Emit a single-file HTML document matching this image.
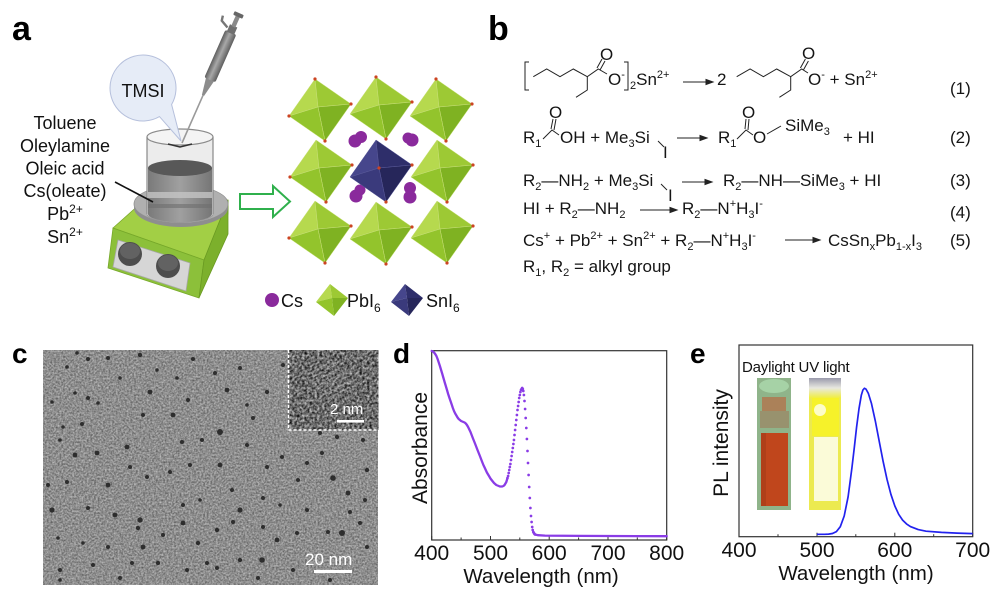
<!DOCTYPE html>
<html><head><meta charset="utf-8">
<style>
html,body{margin:0;padding:0;background:#fff;}
#w{position:relative;width:994px;height:597px;overflow:hidden;font-family:"Liberation Sans",Arial,sans-serif;background:#fff;}
svg{position:absolute;left:0;top:0;}
.t{position:absolute;font-size:17px;line-height:17px;white-space:nowrap;color:#151515;}
.s{font-size:11px;position:relative;top:4px;}
.p{font-size:11px;position:relative;top:-7px;}
</style></head><body><div id="w">
<svg width="994" height="597" viewBox="0 0 994 597" xmlns="http://www.w3.org/2000/svg" font-family="Liberation Sans, Arial, sans-serif">
<defs>
<filter id="tn" x="0" y="0" width="100%" height="100%" color-interpolation-filters="sRGB">
<feTurbulence type="fractalNoise" baseFrequency="0.55" numOctaves="2" seed="5"/>
<feColorMatrix type="matrix" values="0.55 0 0 0 0.28  0.55 0 0 0 0.28  0.55 0 0 0 0.28  0 0 0 0 1"/>
</filter>
<filter id="tn2" x="0" y="0" width="100%" height="100%" color-interpolation-filters="sRGB">
<feTurbulence type="fractalNoise" baseFrequency="0.4" numOctaves="2" seed="9"/>
<feColorMatrix type="matrix" values="1.1 0 0 0 -0.13  1.1 0 0 0 -0.13  1.1 0 0 0 -0.13  0 0 0 0 1"/>
</filter>
<linearGradient id="pip" x1="0" y1="0" x2="1" y2="0">
<stop offset="0" stop-color="#5e5e5e"/><stop offset="0.45" stop-color="#a8a8a8"/><stop offset="1" stop-color="#5e5e5e"/>
</linearGradient>
<linearGradient id="liq" x1="0" y1="0" x2="1" y2="0">
<stop offset="0" stop-color="#7a7a7a"/><stop offset="0.5" stop-color="#a0a0a0"/><stop offset="1" stop-color="#767676"/>
</linearGradient>
<linearGradient id="uvt" x1="0" y1="0" x2="0" y2="1">
<stop offset="0" stop-color="#9a9aac"/><stop offset="0.5" stop-color="#e8e8e0"/><stop offset="1" stop-color="#f0ee40"/>
</linearGradient>
<marker id="dm" markerWidth="4" markerHeight="4" refX="2" refY="2" markerUnits="userSpaceOnUse"><circle cx="2" cy="2" r="1.35" fill="#8a3ce6"/></marker>
</defs>

<!-- ===== Panel labels ===== -->
<text x="12" y="40" font-size="34" font-weight="bold" fill="#000">a</text>
<text x="488" y="40" font-size="34" font-weight="bold" fill="#000">b</text>
<text x="12" y="363" font-size="28" font-weight="bold" fill="#000">c</text>
<text x="393" y="363" font-size="28" font-weight="bold" fill="#000">d</text>
<text x="690" y="363" font-size="28" font-weight="bold" fill="#000">e</text>

<!-- ===== Panel a: hotplate ===== -->
<polygon points="113,228 150,195 228,200 228,214 204,260" fill="#a2cf45" stroke="#7aa82a" stroke-width="0.8"/>
<polygon points="113,228 204,260 199,298 108,268" fill="#8cc03a" stroke="#76a82a" stroke-width="0.8"/>
<polygon points="204,260 228,200 228,234 199,298" fill="#7cb02c" stroke="#6a9a22" stroke-width="0.8"/>
<polygon points="118,240 190,263 186,291 113,267" fill="#d6d6d6" stroke="#a8a8a8" stroke-width="0.8"/>
<circle cx="130" cy="254" r="12" fill="#4d4d4d"/>
<ellipse cx="130" cy="251" rx="10" ry="8" fill="#626262"/>
<circle cx="168" cy="266" r="12" fill="#4d4d4d"/>
<ellipse cx="168" cy="263" rx="10" ry="8" fill="#626262"/>
<!-- disk -->
<ellipse cx="181" cy="208" rx="47" ry="19" fill="#8e8e8e"/>
<ellipse cx="181" cy="204" rx="47" ry="19" fill="#b0b0b0" stroke="#909090" stroke-width="0.8"/>
<!-- beaker -->
<path d="M147,137 L147,214 A33,8 0 0,0 213,214 L213,137 Z" fill="#ececec" stroke="#9a9a9a" stroke-width="1"/>
<path d="M148,168 L148,214 A32,8 0 0,0 212,214 L212,168 Z" fill="url(#liq)"/>
<rect x="148" y="192" width="64" height="6" fill="#c4c4c4" opacity="0.8"/>
<rect x="148" y="204" width="64" height="4" fill="#6e6e6e" opacity="0.6"/>
<ellipse cx="180" cy="168" rx="32" ry="8" fill="#585858"/>
<ellipse cx="180" cy="137" rx="33" ry="8" fill="#f4f4f4" stroke="#8a8a8a" stroke-width="1.2"/>
<path d="M168,144 L180,147 L192,144" fill="none" stroke="#333" stroke-width="1.5"/>
<line x1="147" y1="137" x2="147" y2="214" stroke="#888" stroke-width="1.2"/>
<line x1="213" y1="137" x2="213" y2="214" stroke="#888" stroke-width="1.2"/>
<!-- bubble -->
<path d="M171.6,104.5 L181,141 L159.5,116.6 A33,33 0 1,1 171.6,104.5 Z" fill="#e6ecf7" stroke="#b6c0dc" stroke-width="1"/>
<text x="143" y="97" font-size="18" text-anchor="middle" fill="#111">TMSI</text>
<!-- pipette -->
<g transform="translate(182,143) rotate(23.8)">
<rect x="-0.8" y="-52" width="1.6" height="52" fill="#9a9a9a"/>
<polygon points="-1.2,-52 1.2,-52 4.5,-70 -4.5,-70" fill="#8c8c8c"/>
<rect x="-6" y="-121" width="12" height="52" rx="2" fill="url(#pip)"/>
<rect x="-4" y="-128" width="8" height="8" fill="#707070"/>
<rect x="-2.2" y="-139" width="4.4" height="12" fill="#8a8a8a"/>
<rect x="-5" y="-142" width="10" height="4" rx="1" fill="#666"/>
<path d="M-5,-124 L-13,-128 L-14,-133" fill="none" stroke="#777" stroke-width="2.4"/>
</g>
<!-- text list -->
<g font-size="18" text-anchor="middle" fill="#111">
<text x="65" y="129">Toluene</text>
<text x="65" y="152">Oleylamine</text>
<text x="65" y="174.5">Oleic acid</text>
<text x="65" y="197">Cs(oleate)</text>
<text x="65" y="220">Pb<tspan dy="-7" font-size="12">2+</tspan></text>
<text x="65" y="243">Sn<tspan dy="-7" font-size="12">2+</tspan></text>
</g>
<line x1="115" y1="182" x2="153" y2="202" stroke="#111" stroke-width="1.6"/>
<!-- green arrow -->
<polygon points="240,194 273,194 273,186 290,201.5 273,217 273,209 240,209" fill="#fff" stroke="#2fb04c" stroke-width="2"/>

<!-- crystal -->
<g stroke="#c9e07a" stroke-width="0.5">
<polygon points="289,116 315,79 318,107" fill="#b6d94e"/><polygon points="315,79 351,104 318,107" fill="#9dc934"/><polygon points="351,104 325,141 318,107" fill="#7fb222"/><polygon points="325,141 289,116 318,107" fill="#93c42c"/>
<polygon points="350,114 376,77 379,105" fill="#b6d94e"/><polygon points="376,77 412,102 379,105" fill="#9dc934"/><polygon points="412,102 386,139 379,105" fill="#7fb222"/><polygon points="386,139 350,114 379,105" fill="#93c42c"/>
<polygon points="410,116 436,79 439,107" fill="#b6d94e"/><polygon points="436,79 472,104 439,107" fill="#9dc934"/><polygon points="472,104 446,141 439,107" fill="#7fb222"/><polygon points="446,141 410,116 439,107" fill="#93c42c"/>
<polygon points="290,177 316,140 319,168" fill="#b6d94e"/><polygon points="316,140 352,165 319,168" fill="#9dc934"/><polygon points="352,165 326,202 319,168" fill="#7fb222"/><polygon points="326,202 290,177 319,168" fill="#93c42c"/>
<polygon points="411,177 437,140 440,168" fill="#b6d94e"/><polygon points="437,140 473,165 440,168" fill="#9dc934"/><polygon points="473,165 447,202 440,168" fill="#7fb222"/><polygon points="447,202 411,177 440,168" fill="#93c42c"/>
<polygon points="289,238 315,201 318,229" fill="#b6d94e"/><polygon points="315,201 351,226 318,229" fill="#9dc934"/><polygon points="351,226 325,263 318,229" fill="#7fb222"/><polygon points="325,263 289,238 318,229" fill="#93c42c"/>
<polygon points="350,239 376,202 379,230" fill="#b6d94e"/><polygon points="376,202 412,227 379,230" fill="#9dc934"/><polygon points="412,227 386,264 379,230" fill="#7fb222"/><polygon points="386,264 350,239 379,230" fill="#93c42c"/>
<polygon points="411,238 437,201 440,229" fill="#b6d94e"/><polygon points="437,201 473,226 440,229" fill="#9dc934"/><polygon points="473,226 447,263 440,229" fill="#7fb222"/><polygon points="447,263 411,238 440,229" fill="#93c42c"/>
</g>
<!-- Cs -->
<g fill="#8a2a9c">
<circle cx="355" cy="141" r="6.5"/><circle cx="361" cy="137" r="6"/>
<circle cx="412" cy="140" r="6.5"/><circle cx="408" cy="138" r="5.5"/>
<circle cx="356" cy="196" r="6.5"/><circle cx="360" cy="190" r="5.5"/>
<circle cx="410" cy="197" r="6.5"/><circle cx="410" cy="188" r="6"/>
</g>
<!-- navy -->
<g stroke="#5a5a9a" stroke-width="0.5">
<polygon points="350,177 376,140 379,168" fill="#46468c"/><polygon points="376,140 412,165 379,168" fill="#2e2e6a"/><polygon points="412,165 386,202 379,168" fill="#26265a"/><polygon points="386,202 350,177 379,168" fill="#3a3a7c"/>
</g>
<g fill="#cc4422">
<circle cx="315" cy="79" r="1.6"/><circle cx="376" cy="77" r="1.6"/><circle cx="436" cy="79" r="1.6"/>
<circle cx="289" cy="116" r="1.6"/><circle cx="351" cy="104" r="1.6"/><circle cx="412" cy="102" r="1.6"/><circle cx="472" cy="104" r="1.6"/>
<circle cx="325" cy="141" r="1.6"/><circle cx="386" cy="139" r="1.6"/><circle cx="446" cy="141" r="1.6"/>
<circle cx="290" cy="177" r="1.6"/><circle cx="352" cy="165" r="1.6"/><circle cx="379" cy="168" r="1.6"/><circle cx="412" cy="165" r="1.6"/><circle cx="473" cy="165" r="1.6"/>
<circle cx="326" cy="202" r="1.6"/><circle cx="386" cy="202" r="1.6"/><circle cx="447" cy="202" r="1.6"/>
<circle cx="289" cy="238" r="1.6"/><circle cx="351" cy="226" r="1.6"/><circle cx="412" cy="227" r="1.6"/><circle cx="473" cy="226" r="1.6"/>
<circle cx="325" cy="263" r="1.6"/><circle cx="386" cy="264" r="1.6"/><circle cx="447" cy="263" r="1.6"/>
</g>
<!-- legend -->
<circle cx="272" cy="300" r="7" fill="#8a2a9c"/>
<text x="281" y="307" font-size="18" fill="#111">Cs</text>
<polygon points="316,302 330,284 332,298" fill="#b6d94e"/><polygon points="330,284 348,298 332,298" fill="#9dc934"/><polygon points="348,298 334,316 332,298" fill="#7fb222"/><polygon points="334,316 316,302 332,298" fill="#93c42c"/>
<text x="347" y="307" font-size="18" fill="#111">PbI<tspan dy="5" font-size="12">6</tspan></text>
<polygon points="391,302 405,284 407,298" fill="#46468c"/><polygon points="405,284 423,298 407,298" fill="#2e2e6a"/><polygon points="423,298 409,316 407,298" fill="#26265a"/><polygon points="409,316 391,302 407,298" fill="#3a3a7c"/>
<text x="426" y="307" font-size="18" fill="#111">SnI<tspan dy="5" font-size="12">6</tspan></text>

<!-- ===== Panel b drawings ===== -->
<g fill="none" stroke="#222" stroke-width="1">
<path d="M529,62 L525,62 L525,90 L529,90"/>
<path d="M624,62 L628,62 L628,90 L624,90"/>
<path d="M533.3,76.7 L546.7,69 L560,76.7 L573.3,69 L587.3,76.7 L598.3,69 L607,74"/>
<path d="M587.3,76.7 L587.3,90 L576,97.3"/>
<path d="M597,68 L602,59 M600,70 L605,61"/>
<path d="M736.7,76.7 L750.1,69 L763.4,76.7 L776.7,69 L790.7,76.7 L801.7,69 L808,73"/>
<path d="M790.7,76.7 L790.7,90 L779.4,97.3"/>
<path d="M800.4,68 L805.4,59 M803.4,70 L808.4,61"/>
<path d="M543,139 L552,130 L559,135"/>
<path d="M551,129 L553,119 M554,130 L556,119"/>
<path d="M737,139 L746,130 L753,135"/>
<path d="M745,129 L746,119 M748,130 L749,119"/>
<path d="M767,134 L781,126"/>
<path d="M658,141 L664,147"/>
<path d="M661,184 L667,190"/>
</g>
<g stroke="#222" stroke-width="1" fill="#222">
<line x1="683" y1="82" x2="708" y2="82"/><polygon points="713,82 706,79.5 706,84.5"/>
<line x1="677" y1="138" x2="702" y2="138"/><polygon points="707,138 700,135.5 700,140.5"/>
<line x1="682" y1="182" x2="707" y2="182"/><polygon points="712,182 705,179.5 705,184.5"/>
<line x1="640" y1="210" x2="672" y2="210"/><polygon points="677,210 670,207.5 670,212.5"/>
<line x1="785" y1="240" x2="815" y2="240"/><polygon points="820,240 813,237.5 813,242.5"/>
</g>

<!-- ===== Panel c: TEM ===== -->
<rect x="43" y="350" width="335" height="235" fill="#8c8c8c" filter="url(#tn)"/>
<g fill="#262626" opacity="0.92">
<circle cx="88" cy="359" r="2"/><circle cx="77" cy="353" r="1.8"/><circle cx="67" cy="367" r="1.8"/><circle cx="108" cy="358" r="2"/><circle cx="140" cy="355" r="2.2"/><circle cx="157" cy="370" r="1.8"/><circle cx="193" cy="359" r="2"/><circle cx="215" cy="373" r="2"/><circle cx="227" cy="390" r="2.4"/><circle cx="267" cy="392" r="2.2"/><circle cx="150" cy="392" r="2.4"/><circle cx="188" cy="400" r="2"/><circle cx="88" cy="398" r="2"/><circle cx="75" cy="393" r="1.8"/><circle cx="98" cy="403" r="1.8"/><circle cx="52" cy="402" r="1.8"/><circle cx="173" cy="415" r="2.4"/><circle cx="143" cy="415" r="2"/><circle cx="253" cy="418" r="2"/><circle cx="220" cy="432" r="3"/><circle cx="82" cy="424" r="2"/><circle cx="63" cy="427" r="1.8"/><circle cx="127" cy="447" r="2.4"/><circle cx="97" cy="453" r="2.4"/><circle cx="75" cy="455" r="2.4"/><circle cx="60" cy="440" r="1.8"/><circle cx="182" cy="442" r="2"/><circle cx="202" cy="440" r="2"/><circle cx="247" cy="445" r="2"/><circle cx="282" cy="457" r="2"/><circle cx="322" cy="453" r="2"/><circle cx="333" cy="478" r="2.8"/><circle cx="348" cy="493" r="2.4"/><circle cx="298" cy="480" r="2"/><circle cx="267" cy="467" r="2"/><circle cx="220" cy="465" r="2.4"/><circle cx="190" cy="465" r="2"/><circle cx="170" cy="472" r="2"/><circle cx="147" cy="477" r="2"/><circle cx="130" cy="467" r="2"/><circle cx="108" cy="485" r="2.4"/><circle cx="67" cy="482" r="2"/><circle cx="48" cy="485" r="2"/><circle cx="52" cy="510" r="2.6"/><circle cx="88" cy="508" r="2"/><circle cx="115" cy="515" r="2.4"/><circle cx="140" cy="520" r="2.6"/><circle cx="138" cy="528" r="2.2"/><circle cx="183" cy="505" r="2"/><circle cx="183" cy="523" r="2.4"/><circle cx="200" cy="500" r="1.8"/><circle cx="240" cy="510" r="2.6"/><circle cx="232" cy="490" r="2"/><circle cx="263" cy="498" r="2"/><circle cx="280" cy="505" r="1.8"/><circle cx="307" cy="510" r="2"/><circle cx="350" cy="512" r="2"/><circle cx="360" cy="523" r="2"/><circle cx="342" cy="533" r="3"/><circle cx="328" cy="532" r="2"/><circle cx="297" cy="533" r="2"/><circle cx="277" cy="540" r="2.4"/><circle cx="263" cy="527" r="2"/><circle cx="233" cy="522" r="2"/><circle cx="217" cy="530" r="2.2"/><circle cx="198" cy="543" r="2.2"/><circle cx="163" cy="535" r="2"/><circle cx="143" cy="547" r="2.4"/><circle cx="108" cy="547" r="2"/><circle cx="83" cy="543" r="1.8"/><circle cx="58" cy="538" r="1.8"/><circle cx="158" cy="563" r="2.2"/><circle cx="207" cy="563" r="2"/><circle cx="240" cy="560" r="2.2"/><circle cx="262" cy="560" r="2.8"/><circle cx="293" cy="570" r="2"/><circle cx="258" cy="578" r="2"/><circle cx="217" cy="568" r="2"/><circle cx="187" cy="570" r="2"/><circle cx="132" cy="563" r="2"/><circle cx="93" cy="565" r="2"/><circle cx="60" cy="570" r="2"/><circle cx="367" cy="547" r="2"/><circle cx="177" cy="378" r="1.8"/><circle cx="120" cy="378" r="1.8"/><circle cx="240" cy="368" r="2"/><circle cx="283" cy="365" r="2"/><circle cx="247" cy="405" r="1.8"/><circle cx="293" cy="415" r="2"/><circle cx="320" cy="433" r="2"/><circle cx="337" cy="437" r="2.2"/><circle cx="363" cy="440" r="2"/><circle cx="307" cy="463" r="2"/><circle cx="367" cy="470" r="2.2"/><circle cx="60" cy="580" r="1.8"/><circle cx="120" cy="578" r="2"/><circle cx="330" cy="580" r="2"/><circle cx="365" cy="500" r="2"/>
</g>
<!-- inset -->
<rect x="288.5" y="350" width="89.8" height="80" fill="#707070" filter="url(#tn2)"/>
<g stroke="#bdbdbd" stroke-width="0.8" opacity="0.45">
<line x1="312" y1="372" x2="330" y2="362"/><line x1="313" y1="377" x2="335" y2="365"/><line x1="314" y1="382" x2="340" y2="368"/><line x1="316" y1="387" x2="344" y2="372"/><line x1="319" y1="391" x2="348" y2="376"/><line x1="323" y1="395" x2="350" y2="381"/><line x1="328" y1="398" x2="350" y2="387"/>
</g>
<path d="M288.5,350 L288.5,430 L378.3,430" fill="none" stroke="#fff" stroke-width="1.5" stroke-dasharray="3,2"/>
<text x="330" y="414" font-size="15" fill="#fff">2 nm</text>
<rect x="337" y="420" width="27" height="2.6" fill="#fff"/>
<text x="305" y="565" font-size="17" fill="#fff">20 nm</text>
<rect x="314" y="570" width="38" height="3" fill="#fff"/>

<!-- ===== Panel d ===== -->
<rect x="431.7" y="350.7" width="235" height="189.3" fill="none" stroke="#333" stroke-width="1.2"/>
<g stroke="#333" stroke-width="1">
<line x1="431.7" y1="540" x2="431.7" y2="536"/><line x1="490.5" y1="540" x2="490.5" y2="536"/><line x1="549.2" y1="540" x2="549.2" y2="536"/><line x1="608" y1="540" x2="608" y2="536"/><line x1="666.7" y1="540" x2="666.7" y2="536"/>
<line x1="461.1" y1="540" x2="461.1" y2="537.5"/><line x1="519.8" y1="540" x2="519.8" y2="537.5"/><line x1="578.6" y1="540" x2="578.6" y2="537.5"/><line x1="637.3" y1="540" x2="637.3" y2="537.5"/>
</g>
<polyline fill="none" stroke="#8a3ce6" stroke-width="2.3" stroke-linejoin="round" stroke-linecap="round" points="431.7,351 432.9,351.5 434.05,352.5 435.2,354 436.4,356 437.6,359 438.75,362.5 439.9,366 441.1,370 442.3,374 443.45,378 444.6,382 445.8,386 447,390 448.15,394 449.3,397.5 450.5,401 451.7,404.5 452.85,408 454,411 455.2,413.5 456.4,415.5 457.55,417.5 458.7,419 459.9,420 461.1,421 462.25,421.5 463.4,422 464.6,422.5 465.8,423.5 466.95,425 468.1,427 469.3,429.5 470.5,432 471.65,435 472.8,438 474,441 475.2,444 476.35,447 477.5,450 478.7,453 479.9,456 481.05,459 482.2,462 483.4,465 484.6,467.5 485.75,470 486.9,472.5 488.1,474.5 489.3,476.5 490.45,478.5 491.6,480 492.8,481.5 494,483 495.15,484 496.3,485 497.5,485.5 498.7,486 499.85,486.5 501,486.5 502.2,486.5 503.4,486 504.55,485 505.73,483 506.3,482 506.9,480 507.5,478"/>
<polyline fill="none" stroke="none" marker-start="url(#dm)" marker-mid="url(#dm)" marker-end="url(#dm)" points="507.5,478 508.1,476 508.7,473 509.25,470 509.8,467 510.4,464 511,460 511.6,456 512.2,452 512.8,448 513.4,444 513.95,440 514.5,435 515.1,430 515.7,425 516.3,420 516.9,415 517.5,410 518.1,406 518.65,402 519.2,398 519.8,395 520.4,392 521,390 521.6,389 522.2,388 522.8,389 523.3,391 523.9,395 524.5,401 525.1,409 525.7,418 526.3,428 526.9,439 527.5,451 528,463 528.6,475 529.2,487 529.8,498 530.4,508 531,516 531.6,522 532.2,527 532.7,530 533.3,532 533.9,533 534.5,534 535.1,534.5"/>
<path d="M535.1,534.5 L538,535.2 L545,535.6 L580,535.9 L666.7,536.2" fill="none" stroke="#8a3ce6" stroke-width="2.3" stroke-linecap="round"/>
<g font-size="21" fill="#111" text-anchor="middle">
<text x="431.7" y="560">400</text><text x="490.5" y="560">500</text><text x="549.2" y="560">600</text><text x="608" y="560">700</text><text x="666.7" y="560">800</text>
<text x="541" y="583" font-size="20.5">Wavelength (nm)</text>
<text transform="translate(427,448) rotate(-90)" font-size="21">Absorbance</text>
</g>

<!-- ===== Panel e ===== -->
<rect x="757" y="378" width="34" height="132" fill="#8fb48a"/>
<ellipse cx="774" cy="386" rx="15" ry="7" fill="#a6d2a6"/>
<rect x="762" y="397" width="24" height="14" fill="#b07850" opacity="0.85"/>
<rect x="760" y="411" width="29" height="17" fill="#9a8a66" opacity="0.8"/>
<rect x="761" y="433" width="27" height="73" fill="#c0461c"/>
<rect x="761" y="433" width="5" height="73" fill="#a83c18" opacity="0.7"/>
<rect x="809" y="378" width="32" height="132" fill="#ecea50"/>
<rect x="809" y="378" width="32" height="20" fill="url(#uvt)"/>
<rect x="812" y="398" width="27" height="38" fill="#f6f22a"/>
<ellipse cx="820" cy="410" rx="6" ry="6" fill="#fffff0" opacity="0.8"/>
<rect x="814" y="437" width="24" height="64" fill="#fbfbd8"/>
<text x="742" y="372" font-size="15" fill="#111" letter-spacing="-0.2">Daylight UV light</text>
<rect x="739" y="345" width="233.7" height="191.7" fill="none" stroke="#333" stroke-width="1.2"/>
<g stroke="#333" stroke-width="1">
<line x1="739" y1="536.7" x2="739" y2="532.7"/><line x1="817" y1="536.7" x2="817" y2="532.7"/><line x1="894.8" y1="536.7" x2="894.8" y2="532.7"/><line x1="972.7" y1="536.7" x2="972.7" y2="532.7"/>
<line x1="778" y1="536.7" x2="778" y2="534.2"/><line x1="855.8" y1="536.7" x2="855.8" y2="534.2"/><line x1="933.7" y1="536.7" x2="933.7" y2="534.2"/>
</g>
<polyline fill="none" stroke="#2222ee" stroke-width="1.7" stroke-linejoin="round" points="816.9,534.3 824.7,534.3 828.6,534.1 832.5,533.5 836.4,531.6 840.3,526.7 844.2,516 848.1,496.8 851.9,468 854.3,447.6 856.6,427 859,408.7 861.3,395.3 862.9,390 864.4,388.3 866,389.1 868.3,393.3 871.4,403.2 875.3,420.9 879.2,441.2 883.1,461.3 887,479.3 890.9,494.3 894.8,505.9 898.7,514.3 902.6,520.1 906.5,523.9 910.4,526.6 918.2,529.6 926,531.2 941.5,532.4 957.1,533.1 972.7,533.6"/>
<g font-size="21" fill="#111" text-anchor="middle">
<text x="739" y="557">400</text><text x="817" y="557">500</text><text x="894.8" y="557">600</text><text x="972.7" y="557">700</text>
<text x="856" y="580" font-size="20.5">Wavelength (nm)</text>
<text transform="translate(728,443) rotate(-90)" font-size="21">PL intensity</text>
</g>
</svg>

<!-- ===== Panel b text ===== -->
<div class="t" style="left:600px;top:46px;">O</div>
<div class="t" style="left:608px;top:71px;">O<span class="p">-</span></div>
<div class="t" style="left:630px;top:71px;"><span class="s">2</span>Sn<span class="p">2+</span></div>
<div class="t" style="left:717px;top:71px;">2</div>
<div class="t" style="left:802px;top:45px;">O</div>
<div class="t" style="left:808px;top:71px;">O<span class="p">-</span> + Sn<span class="p">2+</span></div>
<div class="t" style="left:950px;top:80px;">(1)</div>

<div class="t" style="left:523px;top:129px;">R<span class="s">1</span></div>
<div class="t" style="left:549px;top:104px;">O</div>
<div class="t" style="left:560px;top:129px;">OH + Me<span class="s">3</span>Si</div>
<div class="t" style="left:663px;top:144px;">I</div>
<div class="t" style="left:718px;top:129px;">R<span class="s">1</span></div>
<div class="t" style="left:742px;top:104px;">O</div>
<div class="t" style="left:753px;top:129px;">O</div>
<div class="t" style="left:785px;top:117px;">SiMe<span class="s">3</span></div>
<div class="t" style="left:843px;top:129px;">+ HI</div>
<div class="t" style="left:950px;top:129px;">(2)</div>

<div class="t" style="left:523px;top:172px;">R<span class="s">2</span>—NH<span class="s">2</span> + Me<span class="s">3</span>Si</div>
<div class="t" style="left:668px;top:187px;">I</div>
<div class="t" style="left:723px;top:172px;">R<span class="s">2</span>—NH—SiMe<span class="s">3</span> + HI</div>
<div class="t" style="left:950px;top:172px;">(3)</div>

<div class="t" style="left:523px;top:200px;">HI + R<span class="s">2</span>—NH<span class="s">2</span></div>
<div class="t" style="left:682px;top:200px;">R<span class="s">2</span>—N<span class="p">+</span>H<span class="s">3</span>I<span class="p">-</span></div>
<div class="t" style="left:950px;top:204px;">(4)</div>

<div class="t" style="left:523px;top:232px;">Cs<span class="p">+</span> + Pb<span class="p">2+</span> + Sn<span class="p">2+</span> + R<span class="s">2</span>—N<span class="p">+</span>H<span class="s">3</span>I<span class="p">-</span></div>
<div class="t" style="left:828px;top:232px;">CsSn<span class="s">x</span>Pb<span class="s">1-x</span>I<span class="s">3</span></div>
<div class="t" style="left:950px;top:232px;">(5)</div>

<div class="t" style="left:523px;top:258px;">R<span class="s">1</span>, R<span class="s">2</span> = alkyl group</div>
</div></body></html>
